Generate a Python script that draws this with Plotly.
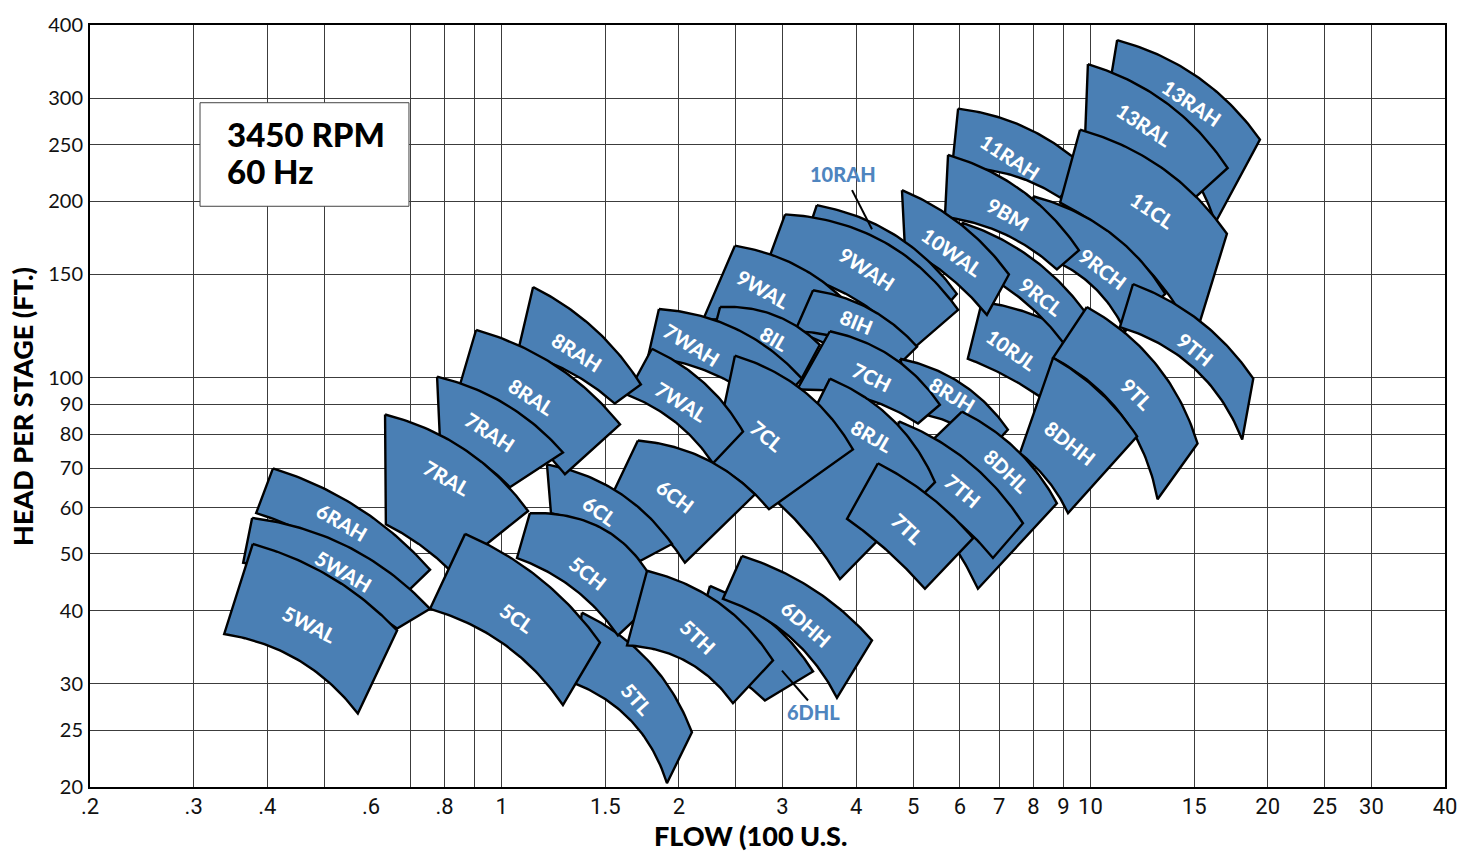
import numpy as np
import plotly.graph_objects as go

# Pump model operating regions at 3450 RPM, listed back-to-front.
# Each region: corners (flow in 100 US gpm, head per stage in ft).
models = ["13RAH", "13RAL", "11RAH", "11CL", "9RCH", "9BM", "10RJL", "9RCL",
          "10WAL", "10RAH", "9WAH", "9WAL", "9TH", "9TL", "8DHH", "8IH", "8IL",
          "8RJH", "7CH", "8DHL", "7TH", "8RJL", "7WAH", "7CL", "7WAL", "7TL",
          "6CH", "6CL", "5TL", "5CH", "6DHL", "5TH", "6DHH", "8RAH", "8RAL",
          "7RAH", "7RAL", "5CL", "6RAH", "5WAH", "5WAL"]

top_left = [(11.1, 377), (9.90, 343), (5.96, 288), (9.60, 265), (7.99, 204),
            (5.73, 240), (6.54, 134.7), (6.05, 184), (4.785, 209), (3.43, 197),
            (3.03, 190), (2.49, 168), (11.81, 144.5), (9.86, 132), (8.64, 108.1),
            (3.38, 141), (2.35, 132), (4.75, 107.7), (3.61, 120), (6.05, 87.5),
            (4.73, 84.2), (3.61, 99.6), (1.850, 131), (2.49, 109), (1.800, 112),
            (4.355, 71.4), (1.704, 78.1), (1.194, 71.1), (1.369, 39.7),
            (1.117, 58.7), (2.259, 44.1), (1.766, 46.8), (2.559, 49.6),
            (1.131, 142.8), (0.905, 120.6), (0.777, 100.4), (0.634, 86.5),
            (0.867, 54.1), (0.409, 70.0), (0.377, 57.6), (0.378, 52.0)]

top_right = [(19.4, 255), (17.1, 228), (9.79, 228.5), (17.05, 176), (13.4, 139),
             (9.56, 165), (9.16, 120), (9.79, 129.5), (7.27, 150), (5.93, 139),
             (5.96, 130.5), (4.14, 123.6), (18.9, 99.6), (15.2, 77.2), (12.0, 79.4),
             (5.075, 112.9), (3.47, 113.8), (7.24, 81.5), (5.55, 89.9), (8.77, 61.0),
             (7.68, 56.4), (5.445, 66.3), (3.236, 99.6), (3.95, 75.4), (2.57, 80.9),
             (6.32, 53.2), (2.693, 63.2), (1.947, 52.0), (2.105, 24.8),
             (1.858, 42.4), (3.38, 31.5), (2.89, 32.9), (4.256, 35.6),
             (1.724, 97.3), (1.589, 83.2), (1.271, 74.5), (1.109, 59.2),
             (1.469, 35.3), (0.756, 47.0), (0.756, 40.3), (0.6645, 37.0)]

bottom_right = [(16.3, 184), (15.05, 203), (8.88, 203), (15.05, 117), (11.45, 120),
                (8.77, 153), (8.21, 92.8), (9.05, 113.8), (6.67, 128), (5.73, 133.6),
                (4.995, 112), (3.755, 110.7), (18.1, 78.4), (13.0, 62.0), (9.16, 58.7),
                (4.69, 104.4), (3.225, 99.2), (6.70, 74.8), (5.095, 83.5), (6.44, 43.6),
                (6.83, 49.2), (3.755, 45.3), (2.878, 87.5), (2.845, 59.6), (2.285, 71.4),
                (5.235, 43.6), (2.048, 48.3), (1.718, 48.6), (1.909, 20.3),
                (1.576, 36.3), (2.80, 28.1), (2.471, 27.8), (3.711, 28.4),
                (1.557, 90.3), (1.281, 68.4), (1.033, 65.0), (0.823, 46.6),
                (1.271, 27.6), (0.672, 41.9), (0.6645, 37.3), (0.570, 26.7)]

bottom_left = [(10.8, 319), (9.79, 257), (5.82, 228), (8.88, 199), (8.37, 161),
               (5.66, 188), (6.19, 107.7), (6.37, 153), (4.84, 167), (3.365, 186),
               (2.80, 153), (2.198, 125.5), (11.22, 122), (8.64, 108.1), (7.59, 74.3),
               (3.15, 120), (2.277, 117), (5.055, 86.8), (3.175, 95.4), (4.66, 67.9),
               (4.48, 67.9), (2.867, 62.7), (1.773, 108.6), (2.277, 71.4), (1.633, 93.5),
               (3.86, 57.4), (1.528, 62.0), (1.213, 58.7), (1.317, 30.2),
               (1.062, 49.2), (2.089, 33.5), (1.633, 34.9), (2.376, 41.9),
               (1.066, 110.7), (0.843, 94.6), (0.786, 77.8), (0.636, 56.2),
               (0.756, 40.3), (0.383, 58.7), (0.364, 48.3), (0.338, 36.5)]

# How far each boundary curve bows outward (fraction of its chord)
top_bow = [0.09, 0.09, 0.08, 0.09, 0.10, 0.09, 0.05, 0.08, 0.07, 0.10, 0.12, 0.10,
           0.08, 0.10, 0.06, 0.09, 0.11, 0.10, 0.10, 0.08, 0.08, 0.10, 0.10, 0.10,
           0.08, 0.05, 0.09, 0.10, 0.10, 0.17, 0.08, 0.10, 0.07, 0.07, 0.08, 0.08,
           0.09, 0.07, 0.07, 0.09, 0.07]
bottom_bow = [0.08, 0.08, 0.08, 0.08, 0.10, 0.08, 0.03, 0.06, 0.05, 0.08, 0.10, 0.08,
              0.12, 0.12, 0.06, 0.08, 0.08, 0.10, 0.08, 0.05, 0.06, 0.04, 0.08, 0.05,
              0.08, 0.03, 0.08, 0.08, 0.12, 0.08, 0.06, 0.12, 0.10, 0.06, 0.06, 0.06,
              0.04, 0.09, 0.06, 0.06, 0.10]

# Model names written inside the regions
label_models = ["13RAH", "13RAL", "11RAH", "11CL", "9RCH", "9BM", "10RJL", "9RCL",
                "10WAL", "9WAH", "9WAL", "9TH", "9TL", "8DHH", "8IH", "8IL", "8RJH",
                "7CH", "8DHL", "7TH", "8RJL", "7WAH", "7CL", "7WAL", "7TL", "6CH",
                "6CL", "5TL", "5CH", "5TH", "6DHH", "8RAH", "8RAL", "7RAH", "7RAL",
                "5CL", "6RAH", "5WAH", "5WAL"]
label_flow = [14.87, 12.37, 7.30, 12.72, 10.50, 7.24, 7.36, 8.27, 5.82, 4.173, 2.78,
              15.05, 12.0, 9.23, 4.013, 2.912, 5.84, 4.256, 7.21, 6.074, 4.256, 2.105,
              2.822, 2.024, 4.898, 1.970, 1.469, 1.698, 1.402, 2.155, 3.288, 1.343,
              1.126, 0.9556, 0.808, 1.062, 0.5357, 0.538, 0.471]
label_head = [294.6, 270.3, 237.6, 193.1, 153, 190, 111.6, 137.3, 163.8, 153, 141.7,
              112, 93.9, 77.2, 124.5, 116.5, 93.5, 100.4, 69.2, 64.0, 79.4, 113.8,
              79.4, 91.0, 55.1, 62.7, 59.2, 28.3, 46.4, 36.0, 37.9, 110.7, 92.8, 80.9,
              67.3, 38.8, 56.7, 46.8, 37.9]
label_angle = [34, 33, 33, 34, 37, 30, 35, 38, 35, 33, 30, 39, 45, 38, 22, 30, 31,
               26, 43, 40, 30, 32, 40, 32, 43, 37, 35, 48, 38, 43, 41, 32, 33, 33,
               30, 35, 30, 30, 27]

# Models named outside their region with a pointer line
callout_models = ["10RAH", "6DHL"]
callout_text_at = [(3.80, 222.3), (3.38, 26.9)]
callout_from = [(3.936, 209), (2.993, 31.6)]
callout_to = [(4.256, 179.2), (3.314, 28.1)]

x_ticks = [0.2, 0.3, 0.4, 0.6, 0.8, 1, 1.5, 2, 3, 4, 5, 6, 7, 8, 9, 10, 15, 20, 25, 30, 40]
x_tick_text = [".2", ".3", ".4", ".6", ".8", "1", "1.5", "2", "3", "4", "5", "6", "7",
               "8", "9", "10", "15", "20", "25", "30", "40"]
x_grid = [0.3, 0.4, 0.5, 0.7, 0.8, 0.9, 1, 1.5, 2, 2.5, 3, 4, 5, 6, 7, 8, 9, 10,
          15, 20, 25, 30]
y_ticks = [20, 25, 30, 40, 50, 60, 70, 80, 90, 100, 150, 200, 250, 300, 400]
y_grid = [25, 30, 40, 50, 60, 70, 80, 90, 100, 150, 200, 250, 300]

BLUE = "#4a7fb4"
CALLOUT_BLUE = "#4f85bf"


def bowed(p0, p1, bow, n=48):
    """Curve from p0 to p1 in log-log space, bulging toward higher flow/head."""
    a = np.log10(np.asarray(p0, dtype=float))
    b = np.log10(np.asarray(p1, dtype=float))
    d = b - a
    normal = np.array([-d[1], d[0]])
    ctrl = (a + b) / 2 + 2 * bow * normal
    t = np.linspace(0, 1, n)[:, None]
    pts = (1 - t) ** 2 * a + 2 * (1 - t) * t * ctrl + t ** 2 * b
    return 10 ** pts


fig = go.Figure()

for i, name in enumerate(models):
    upper = bowed(top_left[i], top_right[i], top_bow[i])
    lower = bowed(bottom_left[i], bottom_right[i], bottom_bow[i])[::-1]
    outline = np.vstack([upper, lower, upper[:1]])
    fig.add_trace(go.Scatter(
        x=outline[:, 0], y=outline[:, 1], mode="lines", name=name,
        fill="toself", fillcolor=BLUE,
        line=dict(color="black", width=2.4),
        hoverinfo="skip", showlegend=False))

for start, end in zip(callout_from, callout_to):
    fig.add_trace(go.Scatter(
        x=[start[0], end[0]], y=[start[1], end[1]], mode="lines",
        line=dict(color="black", width=2), hoverinfo="skip", showlegend=False))

annotations = []
for name, q, h, ang in zip(label_models, label_flow, label_head, label_angle):
    annotations.append(dict(
        x=np.log10(q), y=np.log10(h), xref="x", yref="y", text=name,
        showarrow=False, textangle=ang, xanchor="center", yanchor="middle",
        font=dict(family="Lato", size=20, color="white", weight=900)))

for name, (q, h) in zip(callout_models, callout_text_at):
    annotations.append(dict(
        x=np.log10(q), y=np.log10(h), xref="x", yref="y", text=name,
        showarrow=False, xanchor="center", yanchor="middle",
        font=dict(family="Lato", size=20, color=CALLOUT_BLUE, weight=900)))

annotations += [
    dict(x=0.0996, y=0.8575, xref="paper", yref="paper", text="3450 RPM",
         xanchor="left", yanchor="middle", showarrow=False,
         font=dict(family="Lato", size=33, color="black", weight=900)),
    dict(x=0.0996, y=0.8080, xref="paper", yref="paper", text="60 Hz",
         xanchor="left", yanchor="middle", showarrow=False,
         font=dict(family="Lato", size=33, color="black", weight=900)),
    dict(x=-0.0502, y=0.5, xref="paper", yref="paper", text="HEAD PER STAGE (FT.)",
         textangle=-90, showarrow=False, xanchor="center", yanchor="middle",
         font=dict(family="Lato", size=27, color="black", weight=900)),
    dict(x=0.4878, y=-0.064, xref="paper", yref="paper", text="FLOW (100 U.S.",
         showarrow=False, xanchor="center", yanchor="middle",
         font=dict(family="Lato", size=27, color="black", weight=900)),
]

fig.update_layout(
    width=1478, height=853,
    margin=dict(l=90, r=33, t=22, b=66),
    paper_bgcolor="white", plot_bgcolor="white",
    annotations=annotations,
    shapes=[dict(type="rect", xref="paper", yref="paper",
                 x0=0.0812, x1=0.2354, y0=0.7621, y1=0.8980,
                 fillcolor="white", line=dict(color="#444", width=1),
                 layer="above")],
    xaxis=dict(type="log", range=[np.log10(0.2), np.log10(40)],
               tickmode="array", tickvals=x_ticks, ticktext=x_tick_text,
               showgrid=False, zeroline=False, ticks="",
               ticklabelstandoff=-1,
               tickfont=dict(family="Liberation Sans Narrow, Roboto, Lato", size=22,
                             color="#111"),
               showline=True, linecolor="black", linewidth=2, mirror=True,
               minor=dict(tickvals=x_grid, showgrid=True, gridcolor="#3c3c3c",
                          gridwidth=1, ticks="")),
    yaxis=dict(type="log", range=[np.log10(20), np.log10(400)],
               tickmode="array", tickvals=y_ticks,
               ticktext=[str(v) for v in y_ticks],
               showgrid=False, zeroline=False, ticks="",
               ticklabelstandoff=1,
               tickfont=dict(family="Lato", size=20, color="#111"),
               showline=True, linecolor="black", linewidth=2, mirror=True,
               minor=dict(tickvals=y_grid, showgrid=True, gridcolor="#3c3c3c",
                          gridwidth=1, ticks="")),
)

fig.write_html("out.html", post_script="document.body.style.margin='0';")
